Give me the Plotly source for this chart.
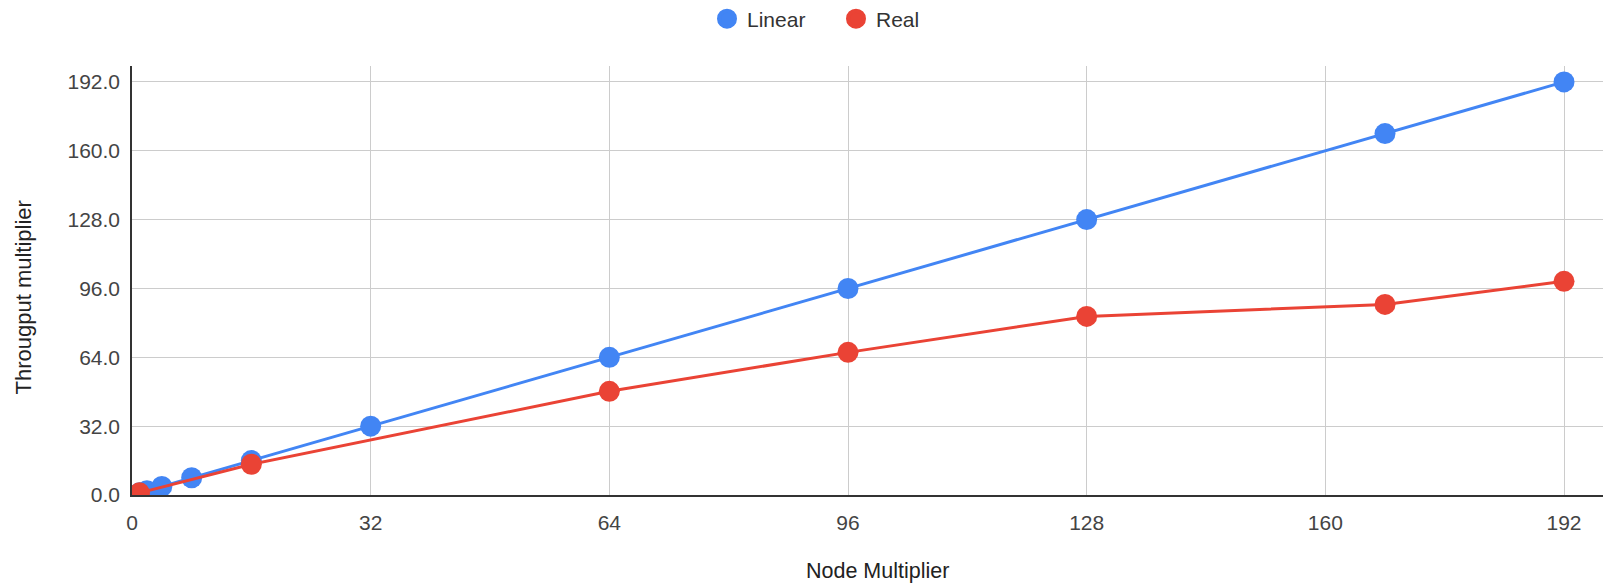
import plotly.graph_objects as go

linear_x = [1, 2, 4, 8, 16, 32, 64, 96, 128, 168, 192]
linear_y = [1, 2, 4, 8, 16, 32, 64, 96, 128, 168, 192]
real_x = [1, 16, 64, 96, 128, 168, 192]
real_y = [1.0, 14.3, 48.2, 66.3, 83.0, 88.6, 99.3]

x_ticks = [0, 32, 64, 96, 128, 160, 192]
y_ticks = [0, 32, 64, 96, 128, 160, 192]

BLUE = "#4285F4"
RED = "#EA4335"
FONT = "Liberation Sans, Arial, sans-serif"

# page has an 8px body margin, so the figure is sized to fill the rest of the window
W, H = 1603, 575
L, R, T, B = 124, 0, 58, 88
PW, PH = W - L - R, H - T - B


def px_x(v):
    return (v - L) / PW


def px_y(v):
    return 1 - (v - T) / PH


fig = go.Figure()
fig.add_trace(go.Scatter(x=linear_x, y=linear_y, mode="lines+markers", name="Linear",
                         line=dict(color=BLUE, width=3),
                         marker=dict(color=BLUE, size=21), showlegend=False))
fig.add_trace(go.Scatter(x=real_x, y=real_y, mode="lines+markers", name="Real",
                         line=dict(color=RED, width=3),
                         marker=dict(color=RED, size=21), showlegend=False))
# legend-only entries (circle symbols like the reference)
fig.add_trace(go.Scatter(x=[None], y=[None], mode="markers", name="Linear",
                         marker=dict(color=BLUE, size=16, line=dict(color=BLUE, width=4))))
fig.add_trace(go.Scatter(x=[None], y=[None], mode="markers", name="Real",
                         marker=dict(color=RED, size=16, line=dict(color=RED, width=4))))

fig.update_layout(
    width=W, height=H,
    margin=dict(l=L, r=R, t=T, b=B, autoexpand=False),
    paper_bgcolor="white", plot_bgcolor="white",
    font=dict(family=FONT, size=21, color="#444"),
    legend=dict(orientation="h", xref="paper", yref="paper",
                x=px_x(699), xanchor="left",
                y=px_y(11), yanchor="middle",
                font=dict(size=21, color="#333"), itemsizing="trace",
                entrywidth=84, entrywidthmode="pixels"),
    xaxis=dict(range=[0, 198.3], tickvals=x_ticks, ticktext=[str(v) for v in x_ticks],
               showgrid=True, gridcolor="#cccccc", gridwidth=1,
               zeroline=False, showline=True, linecolor="#333", linewidth=1.5,
               ticks="outside", ticklen=8, tickcolor="rgba(0,0,0,0)",
               tickfont=dict(size=21, color="#444"), automargin=False),
    yaxis=dict(range=[0, 199.4], tickvals=y_ticks, ticktext=[f"{v:.1f}" for v in y_ticks],
               showgrid=True, gridcolor="#cccccc", gridwidth=1,
               zeroline=False, showline=True, linecolor="#333", linewidth=1.5,
               ticks="outside", ticklen=6, tickcolor="rgba(0,0,0,0)",
               tickfont=dict(size=21, color="#444"), automargin=False),
    annotations=[
        dict(text="Node Multiplier", xref="paper", yref="paper",
             x=px_x(869), y=px_y(563), xanchor="center", yanchor="middle",
             showarrow=False, font=dict(size=21.5, color="#222")),
        dict(text="Througput multiplier", xref="paper", yref="paper",
             x=px_x(15), y=px_y(289.5), xanchor="center", yanchor="middle",
             textangle=-90, showarrow=False, font=dict(size=22, color="#222")),
    ],
)

fig.write_html("out.html")
